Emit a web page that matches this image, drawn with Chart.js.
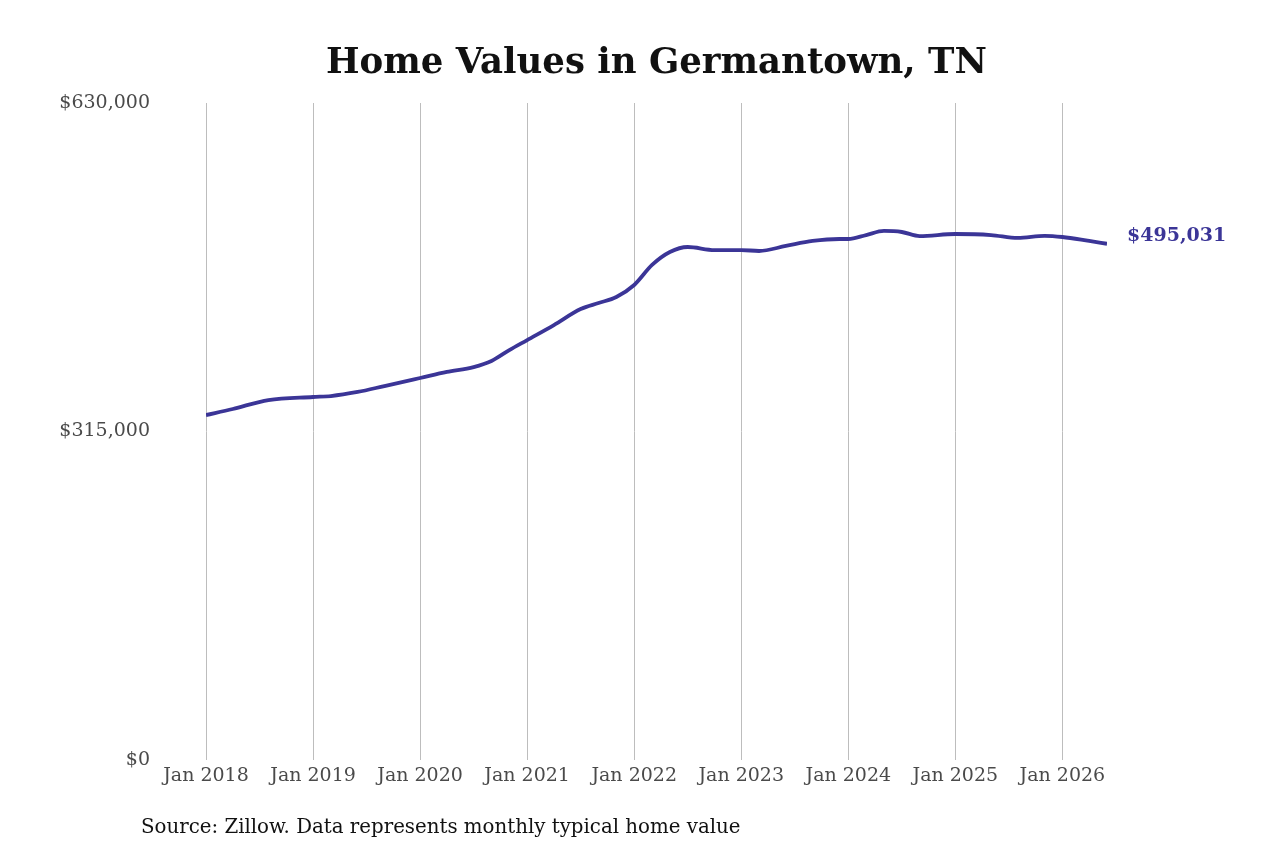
<!DOCTYPE html>
<html>
<head>
<meta charset="utf-8">
<script src="https://cdn.jsdelivr.net/npm/chart.js@4/dist/chart.umd.min.js"></script>
<style>
  html, body { margin: 0; padding: 0; background: #fff; }
  #wrap { width: 1280px; height: 853px; }
</style>
</head>
<body>
<div id="wrap"><canvas id="chart" width="1280" height="853"></canvas></div>
<script>
// months counted from Jan 2018 (0 = Jan 2018)
const months = [0, 3, 7, 12, 14, 17, 20, 24, 27, 30, 32, 34, 36, 39, 42, 44, 46, 48, 50, 52, 54, 57, 60, 62, 65, 68, 71, 72, 74, 76, 78, 80, 84, 88, 91, 94, 96, 99, 101]
const homeValues = [330800, 336600, 345200, 348100, 349000, 352900, 358600, 366300, 372100, 376800, 382600, 393100, 402700, 417100, 432400, 438200, 444000, 455500, 474700, 487100, 491900, 489000, 489000, 488100, 492900, 497700, 499600, 499600, 503400, 507300, 506300, 502400, 504400, 503400, 500600, 502600, 501500, 497700, 495031]
const tickMonths = [0, 12, 24, 36, 48, 60, 72, 84, 96]
const tickYears = ['Jan 2018', 'Jan 2019', 'Jan 2020', 'Jan 2021', 'Jan 2022', 'Jan 2023', 'Jan 2024', 'Jan 2025', 'Jan 2026']
const valueTicks = [0, 315000, 630000]

const lineColor = '#3b3597'
const serif = "'DejaVu Serif', serif"

const points = months.map((m, i) => ({ x: m, y: homeValues[i] }))

const endLabel = {
  id: 'endLabel',
  afterDatasetsDraw(chart) {
    const meta = chart.getDatasetMeta(0)
    const last = meta.data[meta.data.length - 1]
    const ctx = chart.ctx
    ctx.save()
    ctx.font = `bold 19px ${serif}`
    ctx.fillStyle = lineColor
    ctx.textAlign = 'left'
    ctx.textBaseline = 'middle'
    ctx.fillText('$' + homeValues[homeValues.length - 1].toLocaleString('en-US'), last.x + 20, last.y - 8)
    ctx.restore()
  }
}

const sourceNote = {
  id: 'sourceNote',
  afterDraw(chart) {
    const ctx = chart.ctx
    ctx.save()
    ctx.font = `19.8px ${serif}`
    ctx.fillStyle = '#111'
    ctx.textAlign = 'left'
    ctx.textBaseline = 'middle'
    ctx.fillText('Source: Zillow. Data represents monthly typical home value', 141, 828)
    ctx.restore()
  }
}

new Chart(document.getElementById('chart'), {
  type: 'line',
  data: {
    datasets: [{
      data: points,
      borderColor: lineColor,
      borderWidth: 3.8,
      pointRadius: 0,
      tension: 0.4,
      cubicInterpolationMode: 'monotone',
      fill: false
    }]
  },
  options: {
    responsive: false,
    animation: false,
    layout: { padding: { top: 0, left: 0, right: 173, bottom: 0 } },
    plugins: {
      legend: { display: false },
      tooltip: { enabled: false },
      title: {
        display: true,
        text: 'Home Values in Germantown, TN',
        fullSize: false,
        color: '#111',
        font: { family: serif, size: 35.5, weight: 'bold' },
        padding: { top: 42, bottom: 18.4 }
      }
    },
    scales: {
      x: {
        type: 'linear',
        min: 0,
        max: 101,
        afterBuildTicks: (s) => { s.ticks = tickMonths.map(v => ({ value: v })) },
        afterFit: (s) => { s.height = 93 },
        grid: { color: '#bdbdbd', lineWidth: 1, drawTicks: false },
        border: { display: false },
        ticks: {
          padding: 5,
          color: '#4a4a4a',
          font: { family: serif, size: 19 },
          maxRotation: 0,
          callback: (v) => tickYears[tickMonths.indexOf(v)]
        }
      },
      y: {
        min: 0,
        max: 630000,
        afterBuildTicks: (s) => { s.ticks = valueTicks.map(v => ({ value: v })) },
        afterFit: (s) => { s.width = 206 },
        grid: { display: false },
        border: { display: false },
        ticks: {
          padding: 48,
          color: '#4a4a4a',
          font: { family: serif, size: 19 },
          callback: (v) => '$' + v.toLocaleString('en-US')
        }
      }
    }
  },
  plugins: [endLabel, sourceNote]
})
</script>
</body>
</html>
